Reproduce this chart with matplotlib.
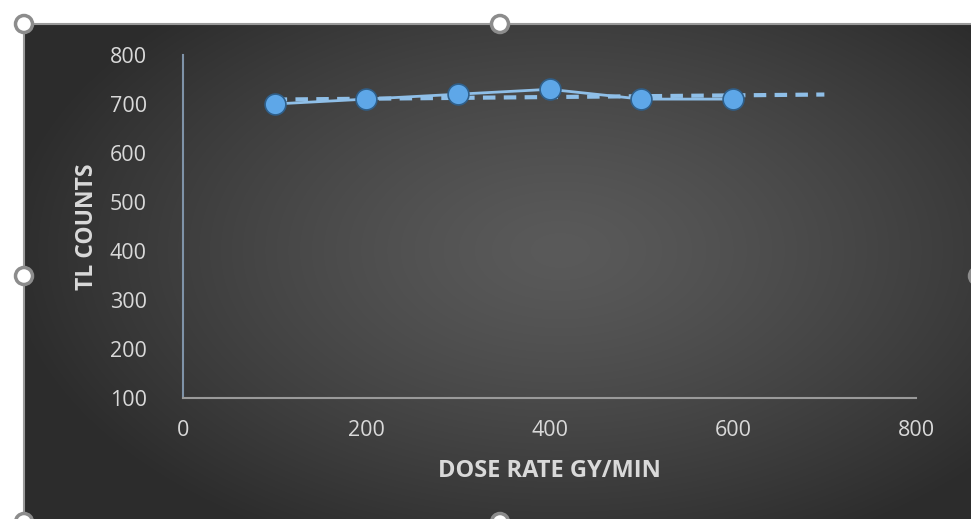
import numpy as np
import matplotlib
matplotlib.use("Agg")
import matplotlib.pyplot as plt
from matplotlib.patches import Circle

dose_rate = [100, 200, 300, 400, 500, 600]
tl_counts = [700, 710, 720, 730, 710, 710]
x_ticks = [0, 200, 400, 600, 800]
y_ticks = [100, 200, 300, 400, 500, 600, 700, 800]

W, H = 971, 519
fig = plt.figure(figsize=(W / 100, H / 100), dpi=100)
fig.patch.set_facecolor("white")

# background gradient panel
bg = fig.add_axes([0, 0, 1, 1], zorder=0)
bg.set_xlim(0, W)
bg.set_ylim(H, 0)
bg.axis("off")
yy, xx = np.mgrid[0:H, 0:W]
cx, cy = 560, 250
r = np.sqrt(((xx - cx) / 560.0) ** 2 + ((yy - cy) / 330.0) ** 2)
r = np.clip(r, 0, 1)
c_in = np.array([0x5a, 0x5a, 0x5a]) / 255
c_out = np.array([0x2c, 0x2c, 0x2c]) / 255
img = c_in[None, None, :] * (1 - r[..., None] ** 1.3) + c_out[None, None, :] * (r[..., None] ** 1.3)
x0, y0 = 24, 24
bg.imshow(img[y0:, x0:], extent=[x0, W, H, y0], aspect="auto", interpolation="bilinear")
bg.plot([x0, W], [y0, y0], color="#9a9a9a", lw=1.5)
bg.plot([x0, x0], [y0, H], color="#9a9a9a", lw=1.5)

# main axes
L, R, T, B = 183, 916, 55, 398
ax = fig.add_axes([L / W, 1 - B / H, (R - L) / W, (B - T) / H], zorder=2)
ax.patch.set_alpha(0)
ax.set_xlim(0, 800)
ax.set_ylim(100, 800)
for s in ["top", "right"]:
    ax.spines[s].set_visible(False)
ax.spines["left"].set_color("#7f93a8")
ax.spines["bottom"].set_color("#9a9a9a")
ax.spines["left"].set_linewidth(1.5)
ax.spines["bottom"].set_linewidth(1.5)
ax.set_xticks(x_ticks)
ax.set_yticks(y_ticks)
ax.tick_params(length=0, colors="#d9d9d9", labelsize=15.5)
ax.tick_params(axis="y", pad=26)
ax.tick_params(axis="x", pad=16)
for lab in ax.get_xticklabels() + ax.get_yticklabels():
    lab.set_fontfamily("Open Sans")

# trendline (linear fit of data, extended forward)
coef = np.polyfit(dose_rate, tl_counts, 1)
tx = np.array([dose_rate[0], 700])
ax.plot(tx, np.polyval(coef, tx), color="#8fbfe8", lw=3, ls=(0, (3, 2)), zorder=3)

ax.plot(dose_rate, tl_counts, color="#8fbfe8", lw=2, zorder=4)
ax.plot(dose_rate, tl_counts, ls="none", marker="o", ms=15, mfc="#5ea7e8",
        mec="#2f5f8a", mew=1.2, zorder=5)

ax.set_ylabel("TL COUNTS", color="#d9d9d9", fontsize=16.5, fontweight="bold",
              fontfamily="Open Sans", labelpad=8)
ax.set_xlabel("DOSE RATE GY/MIN", color="#d9d9d9", fontsize=17, fontweight="bold",
              fontfamily="Open Sans", labelpad=13)

# selection handles
ov = fig.add_axes([0, 0, 1, 1], zorder=5)
ov.set_xlim(0, W)
ov.set_ylim(H, 0)
ov.axis("off")
ov.patch.set_alpha(0)
for (hx, hy) in [(24, 24), (500, 24), (24, 276), (978, 276), (24, 522), (500, 522)]:
    ov.add_patch(Circle((hx, hy), 8.5, facecolor="white", edgecolor="#8c8c8c", lw=2.5))

fig.savefig("out.png", dpi=100, facecolor=fig.get_facecolor())
